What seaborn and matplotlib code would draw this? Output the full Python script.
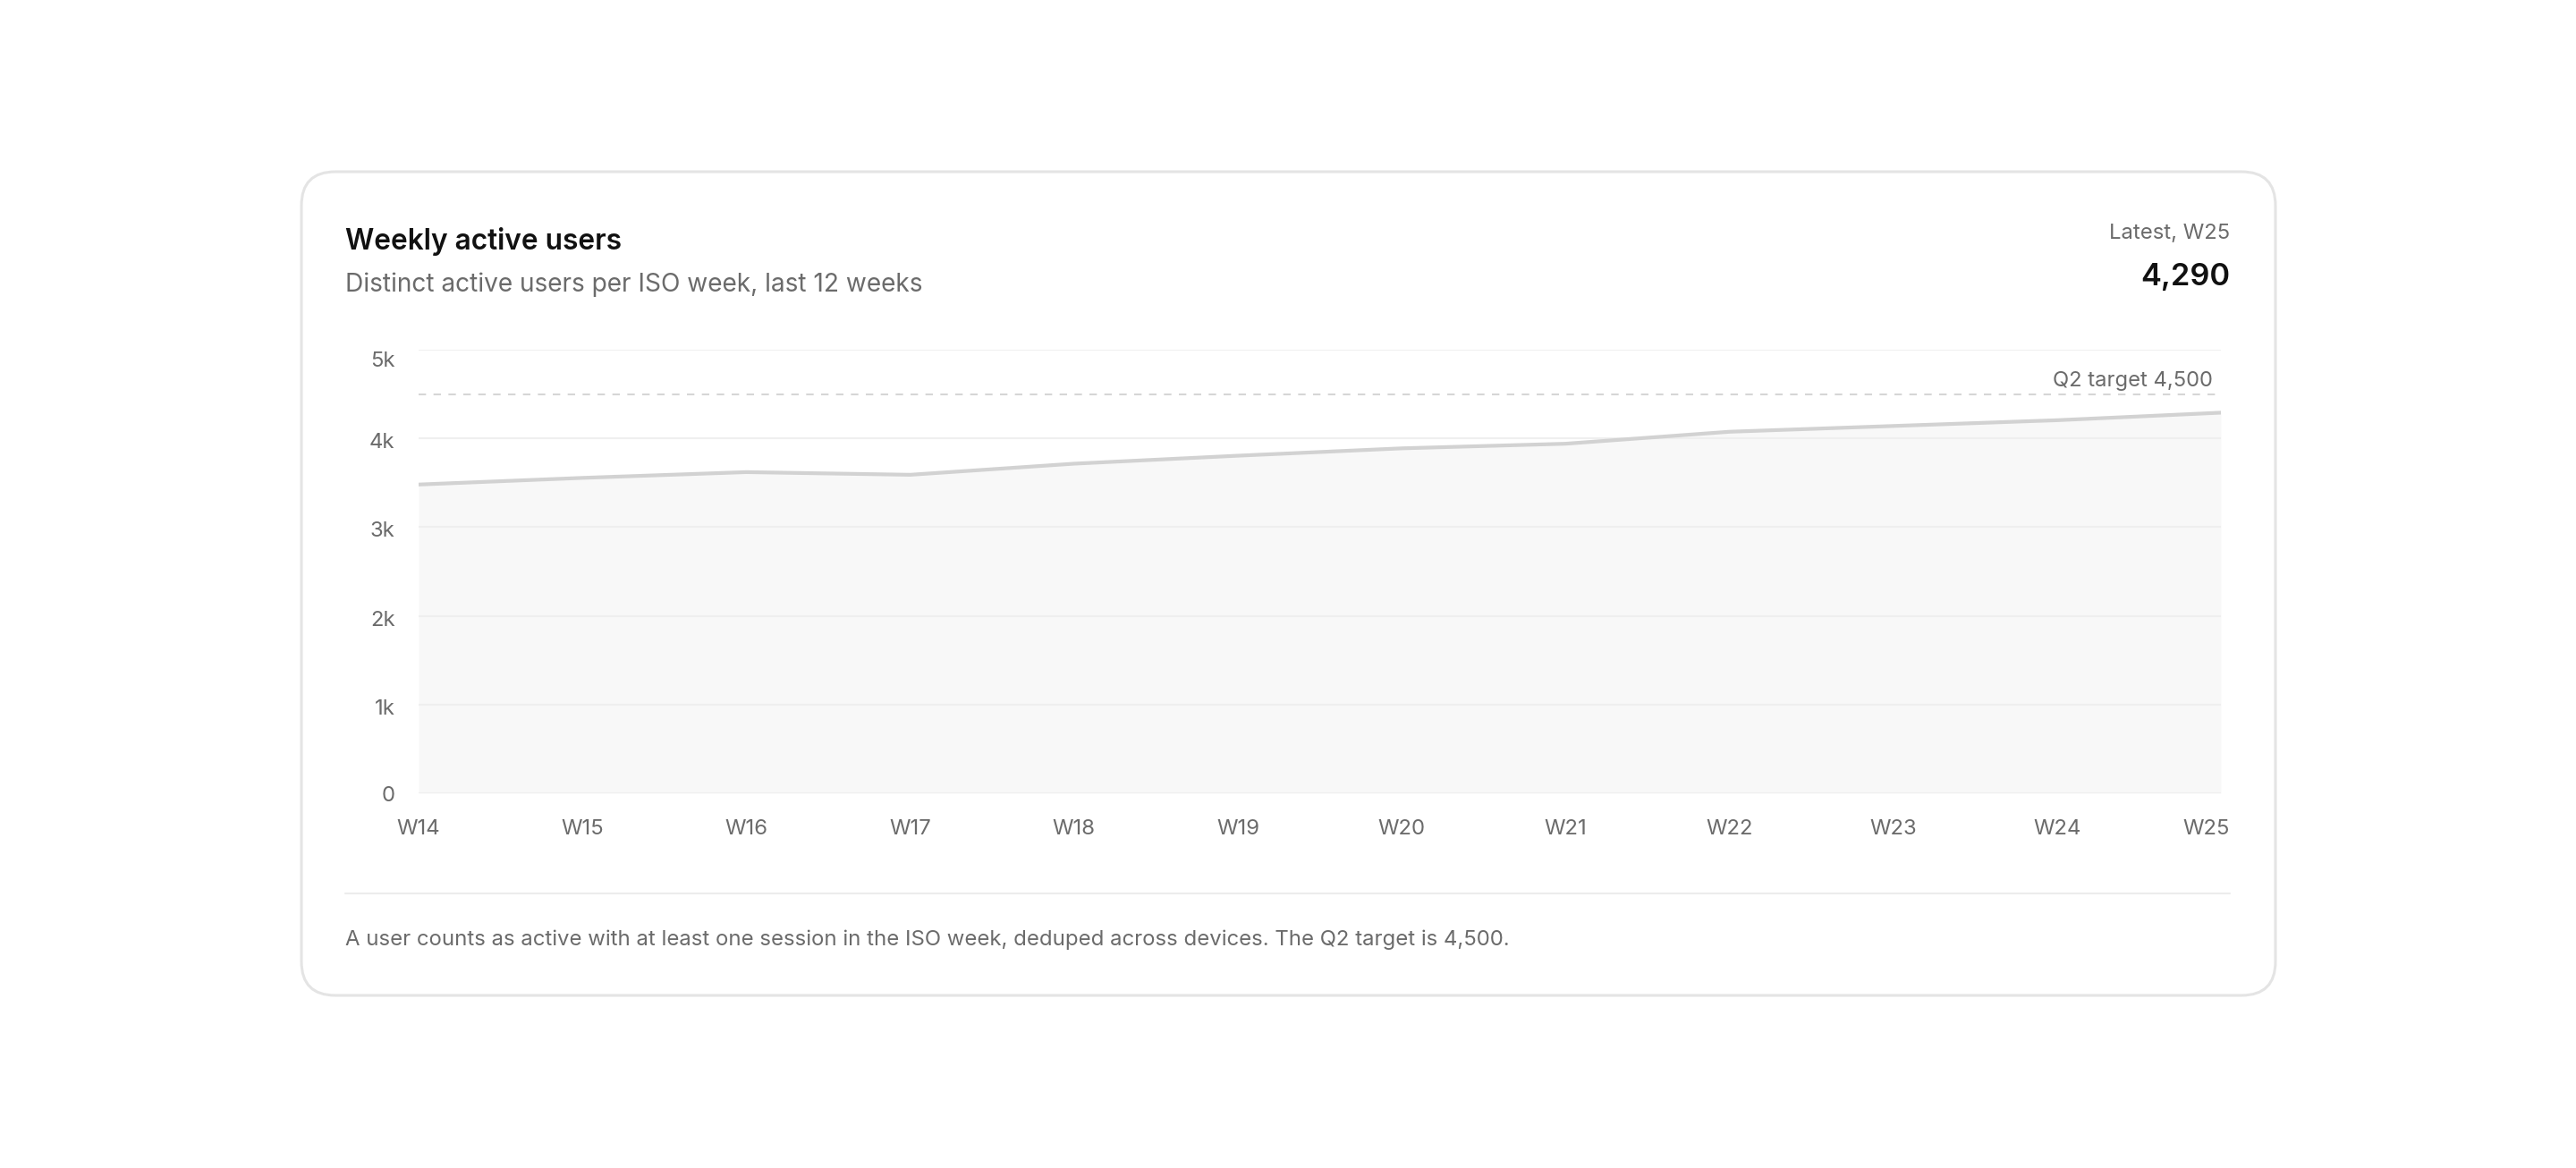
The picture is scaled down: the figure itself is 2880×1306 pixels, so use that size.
import matplotlib
matplotlib.use("Agg")
import matplotlib.pyplot as plt
import seaborn as sns
import pandas as pd
from matplotlib.patches import FancyBboxPatch
from matplotlib.lines import Line2D
from matplotlib.transforms import ScaledTranslation

# ---- data ----
weeks = ["W14", "W15", "W16", "W17", "W18", "W19", "W20", "W21", "W22", "W23", "W24", "W25"]
users = [3480, 3555, 3620, 3590, 3715, 3805, 3888, 3940, 4075, 4140, 4205, 4290]
y_ticks = [0, 1000, 2000, 3000, 4000, 5000]
y_tick_labels = ["0", "1k", "2k", "3k", "4k", "5k"]
target = 4500
title = "Weekly active users"
subtitle = "Distinct active users per ISO week, last 12 weeks"
latest_label = "Latest, W25"
latest_value = "4,290"
target_label = "Q2 target 4,500"
footnote = ("A user counts as active with at least one session in the ISO week, "
            "deduped across devices. The Q2 target is 4,500.")

sns.set_theme(style="white")
plt.rcParams["font.family"] = ["Inter", "DejaVu Sans"]

W, H, DPI = 2880, 1306, 200
fig = plt.figure(figsize=(W / DPI, H / DPI), dpi=DPI)
fig.patch.set_facecolor("white")

GRAY = "#6b6b6b"
DARK = "#111111"

# background axes in pixel coordinates
bg = fig.add_axes([0, 0, 1, 1])
bg.set_xlim(0, W)
bg.set_ylim(H, 0)
bg.axis("off")
card = FancyBboxPatch((337, 192), 2544 - 337, 1113 - 192,
                      boxstyle="round,pad=0,rounding_size=38",
                      facecolor="white", edgecolor="#e4e4e4", linewidth=1.1)
bg.add_patch(card)
bg.text(386, 270, title, fontsize=11.4, fontweight="semibold", color=DARK,
        ha="left", va="center")
bg.text(386, 318, subtitle, fontsize=10.1, color=GRAY, ha="left", va="center")
bg.text(2493, 261, latest_label, fontsize=8.6, color=GRAY, ha="right", va="center")
bg.text(2493, 310, latest_value, fontsize=12.4, fontweight="semibold", color=DARK,
        ha="right", va="center")
bg.add_line(Line2D([386, 2493], [999, 999], color="#ececec", linewidth=0.75))
bg.text(386, 1051, footnote, fontsize=8.62, color=GRAY, ha="left", va="center")

# chart axes
left, right, top, bottom = 468, 2483, 391, 887
ax = fig.add_axes([left / W, 1 - bottom / H, (right - left) / W, (bottom - top) / H])
ax.set_facecolor("none")

df = pd.DataFrame({"week": weeks, "users": users, "x": range(len(weeks))})
ax.fill_between(df["x"], 0, df["users"], color="#f8f8f8", linewidth=0, zorder=1)
sns.lineplot(data=df, x="x", y="users", ax=ax, color="#d2d2d2", linewidth=1.5,
             zorder=2)
ax.axhline(target, color="#d6d6d6", linewidth=0.75, linestyle=(0, (4, 4)), zorder=2)
ax.text(len(weeks) - 1, target, target_label, fontsize=8.55, color=GRAY,
        ha="right", va="bottom",
        transform=ax.transData + ScaledTranslation(-9 / DPI, 4 / DPI, fig.dpi_scale_trans))

ax.set_xlim(0, len(weeks) - 1)
ax.set_ylim(0, 5000)
ax.set_xticks(range(len(weeks)))
ax.set_xticklabels(weeks)
ax.set_yticks(y_ticks)
ax.set_yticklabels(y_tick_labels)
ax.set_xlabel("")
ax.set_ylabel("")
ax.tick_params(axis="both", length=0, labelsize=8.6, labelcolor=GRAY)
ax.tick_params(axis="y", pad=9.5)
ax.tick_params(axis="x", pad=10.3)
for s in ax.spines.values():
    s.set_visible(False)
ax.set_axisbelow("line")
ax.grid(axis="y", color="#efefef", linewidth=0.75)
ax.grid(axis="x", visible=False)

xt = ax.get_xticklabels()
xt[-1].set_horizontalalignment("right")
xt[-1].set_transform(xt[-1].get_transform() + ScaledTranslation(10 / DPI, 0, fig.dpi_scale_trans))

yt = ax.get_yticklabels()
for i, lab in enumerate(yt):
    dy = -2.5
    if i == 0:
        dy = 0
    elif i == len(yt) - 1:
        dy = -11
    lab.set_transform(lab.get_transform() + ScaledTranslation(0, dy / DPI, fig.dpi_scale_trans))

fig.savefig("out.png", dpi=DPI, facecolor="white")
